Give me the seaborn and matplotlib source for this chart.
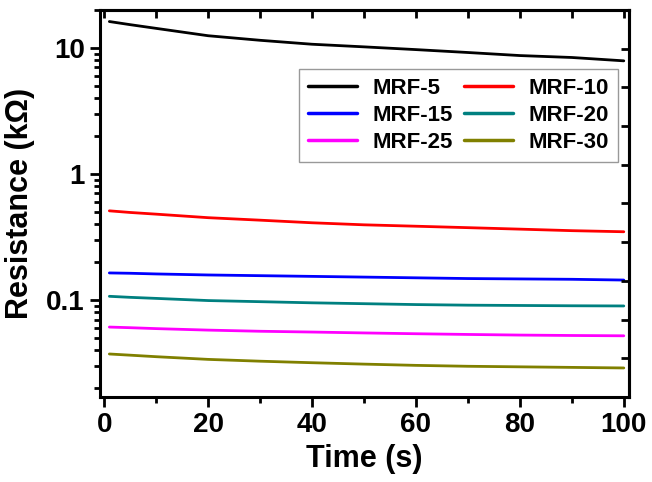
import numpy as np
import pandas as pd
import matplotlib
matplotlib.use("Agg")
import matplotlib.pyplot as plt
import seaborn as sns
from matplotlib.ticker import LogLocator, NullFormatter, MultipleLocator

# time axis (s)
time_s = [1, 5, 10, 20, 30, 40, 50, 60, 70, 80, 90, 100]

# resistance (kOhm)
mrf_5 = [16.2, 15.3, 14.3, 12.5, 11.5, 10.7, 10.2, 9.7, 9.2, 8.7, 8.4, 7.9]
mrf_10 = [0.51, 0.495, 0.48, 0.45, 0.43, 0.41, 0.395, 0.385, 0.375, 0.365, 0.355, 0.348]
mrf_15 = [0.164, 0.163, 0.161, 0.158, 0.156, 0.154, 0.152, 0.150, 0.148, 0.147, 0.146, 0.144]
mrf_20 = [0.107, 0.105, 0.103, 0.099, 0.097, 0.095, 0.0935, 0.092, 0.091, 0.0905, 0.090, 0.0897]
mrf_25 = [0.061, 0.0603, 0.0593, 0.0577, 0.0565, 0.0557, 0.0548, 0.054, 0.0533, 0.0527, 0.0523, 0.052]
mrf_30 = [0.0373, 0.0365, 0.0355, 0.0338, 0.0327, 0.0318, 0.031, 0.0303, 0.0298, 0.0295, 0.0292, 0.0289]

labels = ["MRF-5", "MRF-10", "MRF-15", "MRF-20", "MRF-25", "MRF-30"]
colors = ["#000000", "#ff0000", "#0000ff", "#008080", "#ff00ff", "#808000"]

series = [mrf_5, mrf_10, mrf_15, mrf_20, mrf_25, mrf_30]
frames = []
for name, vals in zip(labels, series):
    frames.append(pd.DataFrame({"Time": time_s, "R": vals, "Sample": name}))
df = pd.concat(frames, ignore_index=True)

sns.set_style("ticks")
plt.rcParams['font.family'] = ['Liberation Sans', 'DejaVu Sans']
plt.rcParams['font.weight'] = 'bold'
plt.rcParams['axes.edgecolor'] = 'black'
plt.rcParams['text.color'] = 'black'
plt.rcParams['axes.labelcolor'] = 'black'
plt.rcParams['xtick.color'] = 'black'
plt.rcParams['ytick.color'] = 'black'

fig = plt.figure(figsize=(6.52, 4.82), dpi=100)
ax = fig.add_axes([100/652, 1 - 397/482, 529/652, 387/482])

sns.lineplot(data=df, x="Time", y="R", hue="Sample", hue_order=labels,
             palette=colors, linewidth=2, ax=ax)

ax.set_yscale("log")
ax.set_xlim(-0.8, 101)

ax.xaxis.set_major_locator(MultipleLocator(20))
ax.xaxis.set_minor_locator(MultipleLocator(10))
ax.yaxis.set_minor_locator(LogLocator(base=10, subs=np.arange(2, 10)))
ax.yaxis.set_minor_formatter(NullFormatter())
ax.set_yticks([0.1, 1, 10])
ax.set_yticklabels(["0.1", "1", "10"])
ax.set_ylim(0.017, 20)

ax.tick_params(axis="both", which="major", direction="out", length=7, width=2,
               labelsize=20, pad=4, colors="black")
ax.tick_params(axis="both", which="minor", direction="out", length=4, width=2,
               colors="black")
for lab in ax.get_xticklabels() + ax.get_yticklabels():
    lab.set_fontweight("bold")

for s in ax.spines.values():
    s.set_linewidth(2.2)
    s.set_color("black")
    s.set_visible(True)

ax.set_xlabel("Time (s)", fontsize=22, fontweight="bold", labelpad=4)
ax.set_ylabel("Resistance (k\u03a9)", fontsize=22, fontweight="bold", labelpad=8)

# top ticks (inward)
axt = ax.secondary_xaxis("top")
axt.xaxis.set_major_locator(MultipleLocator(10))
axt.tick_params(direction="in", length=6, width=2, labeltop=False, colors="black")
axt.spines["top"].set_linewidth(2.2)
axt.spines["top"].set_color("black")

# right ticks (linear, inward)
axr = ax.twinx()
axr.set_ylim(0, 10)
axr.set_yticks(range(1, 10))
axr.tick_params(axis="y", direction="in", length=6, width=2, labelright=False,
                colors="black")
axr.spines["right"].set_linewidth(2.2)
axr.spines["right"].set_color("black")
for s in ["left", "top", "bottom"]:
    axr.spines[s].set_visible(False)

# legend filled row by row
handles, labs = ax.get_legend_handles_labels()
order = [0, 2, 4, 1, 3, 5]
leg = ax.legend([handles[i] for i in order], [labs[i] for i in order],
                loc="upper right", bbox_to_anchor=(0.979, 0.848), ncol=2,
                frameon=True, fancybox=False, edgecolor="#808080",
                prop={"size": 16, "weight": "bold"}, handlelength=2.2,
                handletextpad=0.7, columnspacing=0.5, labelspacing=0.28,
                borderpad=0.4, borderaxespad=0)
leg.get_frame().set_linewidth(1)
for line in leg.get_lines():
    line.set_linewidth(2.5)

fig.savefig("out.png", dpi=100)
